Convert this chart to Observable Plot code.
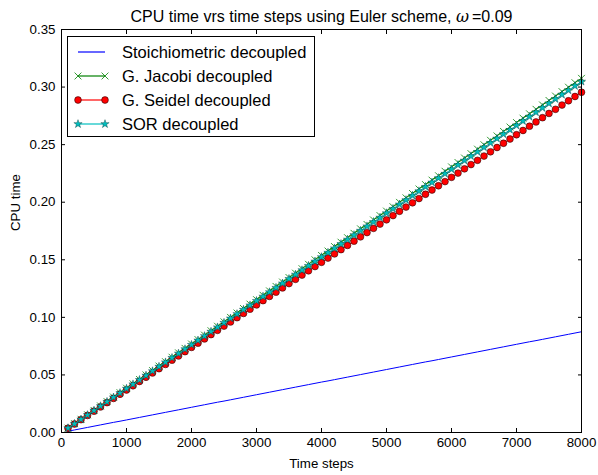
<!DOCTYPE html>
<html><head><meta charset="utf-8">
<script src="https://cdn.jsdelivr.net/npm/d3@7"></script>
<script src="https://cdn.jsdelivr.net/npm/@observablehq/plot@0.6"></script>
<style>body{margin:0;background:#fff}</style>
</head><body><div id="chart"></div>
<script>
const steps = [100,200,300,400,500,600,700,800,900,1000,1100,1200,1300,1400,1500,1600,1700,1800,1900,2000,
2100,2200,2300,2400,2500,2600,2700,2800,2900,3000,3100,3200,3300,3400,3500,3600,3700,3800,3900,4000,
4100,4200,4300,4400,4500,4600,4700,4800,4900,5000,5100,5200,5300,5400,5500,5600,5700,5800,5900,6000,
6100,6200,6300,6400,6500,6600,6700,6800,6900,7000,7100,7200,7300,7400,7500,7600,7700,7800,7900,8000];

const stoich = [0.0011,0.0022,0.0033,0.0044,0.0055,0.0066,0.0077,0.0088,0.0098,0.0109,
0.0120,0.0131,0.0142,0.0153,0.0164,0.0175,0.0186,0.0197,0.0208,0.0219,
0.0230,0.0241,0.0252,0.0263,0.0273,0.0284,0.0295,0.0306,0.0317,0.0328,
0.0339,0.0350,0.0361,0.0372,0.0383,0.0394,0.0405,0.0416,0.0427,0.0438,
0.0448,0.0459,0.0470,0.0481,0.0492,0.0503,0.0514,0.0525,0.0536,0.0547,
0.0558,0.0569,0.0580,0.0591,0.0602,0.0613,0.0623,0.0634,0.0645,0.0656,
0.0667,0.0678,0.0689,0.0700,0.0711,0.0722,0.0733,0.0744,0.0755,0.0766,
0.0777,0.0788,0.0798,0.0809,0.0820,0.0831,0.0842,0.0853,0.0864,0.0875];

const jacobi = [0.0038,0.0077,0.0115,0.0154,0.0192,0.0231,0.0269,0.0308,0.0346,0.0385,
0.0423,0.0461,0.0500,0.0538,0.0577,0.0615,0.0654,0.0692,0.0731,0.0769,
0.0807,0.0846,0.0884,0.0923,0.0961,0.1000,0.1038,0.1077,0.1115,0.1154,
0.1192,0.1230,0.1269,0.1307,0.1346,0.1384,0.1423,0.1461,0.1500,0.1538,
0.1576,0.1615,0.1653,0.1692,0.1730,0.1769,0.1807,0.1846,0.1884,0.1923,
0.1961,0.1999,0.2038,0.2076,0.2115,0.2153,0.2192,0.2230,0.2269,0.2307,
0.2345,0.2384,0.2422,0.2461,0.2499,0.2538,0.2576,0.2615,0.2653,0.2692,
0.2730,0.2768,0.2807,0.2845,0.2884,0.2922,0.2961,0.2999,0.3038,0.3076];

const seidel = [0.0037,0.0074,0.0111,0.0148,0.0185,0.0222,0.0259,0.0296,0.0332,0.0369,
0.0406,0.0443,0.0480,0.0517,0.0554,0.0591,0.0628,0.0665,0.0702,0.0739,
0.0776,0.0813,0.0850,0.0887,0.0924,0.0960,0.0997,0.1034,0.1071,0.1108,
0.1145,0.1182,0.1219,0.1256,0.1293,0.1330,0.1367,0.1404,0.1441,0.1478,
0.1515,0.1551,0.1588,0.1625,0.1662,0.1699,0.1736,0.1773,0.1810,0.1847,
0.1884,0.1921,0.1958,0.1995,0.2032,0.2069,0.2106,0.2143,0.2179,0.2216,
0.2253,0.2290,0.2327,0.2364,0.2401,0.2438,0.2475,0.2512,0.2549,0.2586,
0.2623,0.2660,0.2697,0.2734,0.2771,0.2807,0.2844,0.2881,0.2918,0.2955];

const sor = [0.0038,0.0076,0.0114,0.0152,0.0191,0.0229,0.0267,0.0305,0.0343,0.0381,
0.0419,0.0457,0.0495,0.0533,0.0572,0.0610,0.0648,0.0686,0.0724,0.0762,
0.0800,0.0838,0.0876,0.0914,0.0953,0.0991,0.1029,0.1067,0.1105,0.1143,
0.1181,0.1219,0.1257,0.1295,0.1334,0.1372,0.1410,0.1448,0.1486,0.1524,
0.1562,0.1600,0.1638,0.1676,0.1715,0.1753,0.1791,0.1829,0.1867,0.1905,
0.1943,0.1981,0.2019,0.2057,0.2096,0.2134,0.2172,0.2210,0.2248,0.2286,
0.2324,0.2362,0.2400,0.2438,0.2477,0.2515,0.2553,0.2591,0.2629,0.2667,
0.2705,0.2743,0.2781,0.2819,0.2858,0.2896,0.2934,0.2972,0.3010,0.3048];

const xTicks = [0,1000,2000,3000,4000,5000,6000,7000,8000];
const yTicks = [0,0.05,0.10,0.15,0.20,0.25,0.30,0.35];
const seriesNames = ["Stoichiometric decoupled","G. Jacobi decoupled","G. Seidel decoupled","SOR decoupled"];
const titleText = "CPU time vrs time steps using Euler scheme, ";
const omegaSymbol = "ω";
const omegaValue = "0.09";
const xLabel = "Time steps";
const yLabel = "CPU time";

const rows = (vals) => steps.map((s, i) => ({step: s, t: vals[i]}));

const colors = {stoich: "#0000ff", jacobi: "#008000", seidel: "#ff0000", sor: "#00bfbf"};
const starR = 2.6, circleR = 3.4, timesR = 3.2;

const plot = Plot.plot({
  width: 598, height: 475,
  marginLeft: 61, marginRight: 17, marginTop: 29, marginBottom: 43,
  style: {fontFamily: "'Liberation Sans', Arial, sans-serif", fontSize: "13.3px", background: "white", color: "black"},
  x: {domain: [0, 8000]},
  y: {domain: [0, 0.35]},
  marks: [
    Plot.axisX(xTicks, {anchor: "bottom", tickSize: 0, tickPadding: 5, tickFormat: d3.format("d"), label: null}),
    Plot.axisY(yTicks, {anchor: "left", tickSize: 0, tickPadding: 6, tickFormat: d3.format(".2f"), label: null}),
    Plot.axisX(xTicks, {anchor: "bottom", tickSize: -4, fill: "none", label: null}),
    Plot.axisX(xTicks, {anchor: "top", tickSize: -4, fill: "none", label: null}),
    Plot.axisY(yTicks, {anchor: "left", tickSize: -4, fill: "none", label: null}),
    Plot.axisY(yTicks, {anchor: "right", tickSize: -4, fill: "none", label: null}),
    Plot.line(rows(stoich), {x: "step", y: "t", stroke: colors.stoich, strokeWidth: 1}),
    Plot.line(rows(jacobi), {x: "step", y: "t", stroke: colors.jacobi, strokeWidth: 1}),
    Plot.dot(rows(jacobi), {x: "step", y: "t", symbol: "times", r: timesR, stroke: colors.jacobi, strokeWidth: 0.8}),
    Plot.line(rows(seidel), {x: "step", y: "t", stroke: colors.seidel, strokeWidth: 1}),
    Plot.dot(rows(seidel), {x: "step", y: "t", symbol: "circle", r: circleR, fill: colors.seidel, stroke: "black", strokeWidth: 0.5}),
    Plot.line(rows(sor), {x: "step", y: "t", stroke: colors.sor, strokeWidth: 1}),
    Plot.dot(rows(sor), {x: "step", y: "t", symbol: "star", r: starR, fill: colors.sor, stroke: "#003333", strokeWidth: 0.4}),
    Plot.frame({stroke: "black", strokeWidth: 1}),
    Plot.text([titleText], {text: d => d, frameAnchor: "top", dy: -13, fontSize: 16, lineAnchor: "middle", className: "chart-title"}),
    Plot.text([xLabel], {text: d => d, frameAnchor: "bottom", dy: 31, fontSize: 13.3, lineAnchor: "middle"}),
    Plot.text([yLabel], {text: d => d, frameAnchor: "left", dx: -46, rotate: -90, fontSize: 13.3, lineAnchor: "middle"})
  ]
});

document.getElementById("chart").appendChild(plot);

// Title with math omega
const tt = d3.select(plot).select("g.chart-title text");
tt.text(null);
tt.append("tspan").text(titleText);
tt.append("tspan").attr("font-style", "italic").attr("font-family", "'DejaVu Serif', serif").text(omegaSymbol);
tt.append("tspan").attr("dx", 3).text("=");
tt.append("tspan").text(omegaValue);

// Legend
const svg = d3.select(plot);
const lg = svg.append("g").attr("font-family", "'Liberation Sans', Arial, sans-serif").attr("font-size", 16.5).attr("text-anchor", "start");
lg.append("rect").attr("x", 67.5).attr("y", 36.5).attr("width", 247).attr("height", 100)
  .attr("fill", "white").attr("stroke", "black").attr("stroke-width", 1);
const legendDefs = [
  {color: colors.stoich, sym: null},
  {color: colors.jacobi, sym: d3.symbolTimes, r: timesR, fill: "none", stroke: colors.jacobi, sw: 0.8},
  {color: colors.seidel, sym: d3.symbolCircle, r: circleR, fill: colors.seidel, stroke: "black", sw: 0.5},
  {color: colors.sor, sym: d3.symbolStar, r: starR, fill: colors.sor, stroke: "#003333", sw: 0.4}
];
legendDefs.forEach((d, i) => {
  const cy = 52 + i * 24;
  lg.append("line").attr("x1", 78).attr("x2", 105).attr("y1", cy).attr("y2", cy)
    .style("stroke", d.color).attr("stroke-width", 1.2);
  if (d.sym) {
    [78, 105].forEach(cx => {
      lg.append("path").attr("d", d3.symbol(d.sym, Math.PI * d.r * d.r)())
        .attr("transform", `translate(${cx},${cy})`)
        .attr("fill", d.fill).attr("stroke", d.stroke).attr("stroke-width", d.sw);
    });
  }
  lg.append("text").attr("x", 122).attr("y", cy).attr("dy", "0.35em").attr("fill", "black").attr("text-anchor", "start").text(seriesNames[i]);
});
</script>
</body></html>
